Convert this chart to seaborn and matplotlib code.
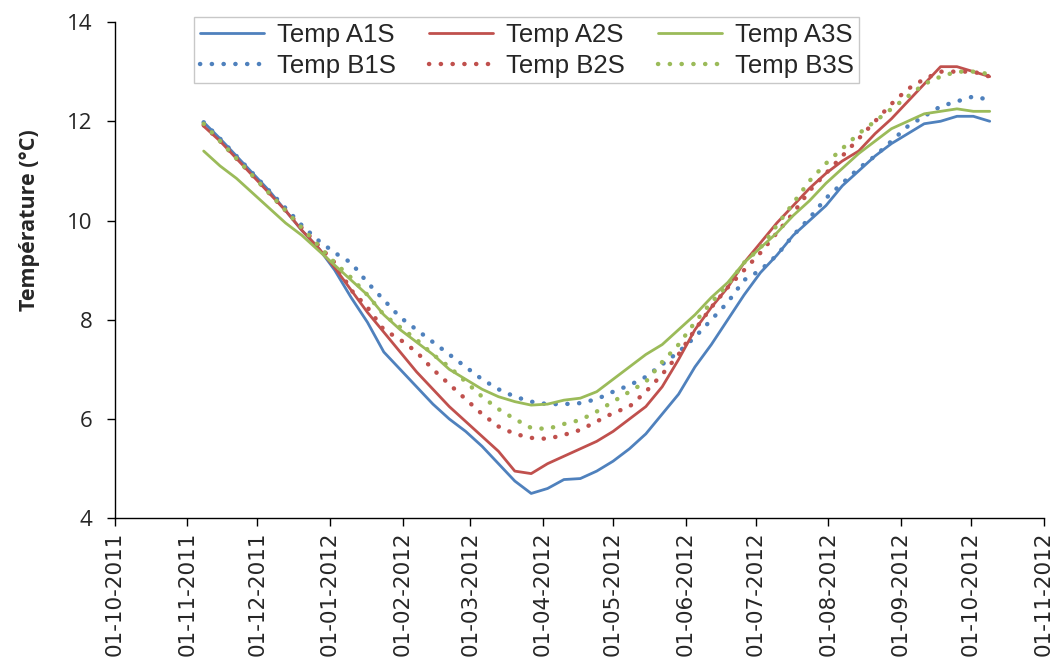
import pandas as pd
import numpy as np
import seaborn as sns
import matplotlib
matplotlib.use("Agg")
import matplotlib.pyplot as plt
import matplotlib.dates as mdates

# weekly readings, 08-11-2011 .. 09-10-2012
dates = pd.date_range("2011-11-08", periods=49, freq="7D")

temp_a1s = [11.98, 11.65, 11.3, 10.95, 10.6, 10.2, 9.8, 9.45, 9.0, 8.45,
            7.95, 7.35, 7.0, 6.65, 6.3, 6.0, 5.75, 5.45, 5.1, 4.75,
            4.5, 4.6, 4.78, 4.8, 4.95, 5.15, 5.4, 5.7, 6.1, 6.5,
            7.05, 7.5, 8.0, 8.5, 8.95, 9.3, 9.7, 10.0, 10.3, 10.7,
            11.0, 11.3, 11.55, 11.75, 11.95, 12.0, 12.1, 12.1, 12.0]
temp_a2s = [11.9, 11.6, 11.25, 10.9, 10.55, 10.2, 9.8, 9.45, 9.05, 8.6,
            8.15, 7.75, 7.35, 6.95, 6.6, 6.25, 5.95, 5.65, 5.35, 4.95,
            4.9, 5.1, 5.25, 5.4, 5.55, 5.75, 6.0, 6.25, 6.65, 7.2,
            7.8, 8.25, 8.65, 9.15, 9.55, 9.95, 10.3, 10.65, 10.95, 11.2,
            11.4, 11.75, 12.05, 12.4, 12.75, 13.1, 13.1, 13.0, 12.9]
temp_a3s = [11.4, 11.1, 10.85, 10.55, 10.25, 9.95, 9.7, 9.4, 9.1, 8.8,
            8.5, 8.1, 7.8, 7.55, 7.3, 7.0, 6.8, 6.6, 6.45, 6.35,
            6.28, 6.3, 6.38, 6.42, 6.55, 6.8, 7.05, 7.3, 7.5, 7.8,
            8.1, 8.45, 8.75, 9.15, 9.45, 9.75, 10.1, 10.4, 10.75, 11.05,
            11.35, 11.6, 11.85, 12.0, 12.15, 12.2, 12.25, 12.2, 12.2]
temp_b1s = [11.98, 11.65, 11.3, 10.95, 10.6, 10.25, 9.9, 9.6, 9.35, 9.15,
            8.75, 8.4, 8.05, 7.8, 7.55, 7.3, 7.05, 6.8, 6.6, 6.45,
            6.35, 6.3, 6.3, 6.32, 6.4, 6.55, 6.68, 6.85, 7.1, 7.35,
            7.65, 8.0, 8.35, 8.8, 9.0, 9.3, 9.7, 10.05, 10.45, 10.75,
            11.05, 11.3, 11.6, 11.9, 12.1, 12.3, 12.4, 12.5, 12.43]
temp_b2s = [11.92, 11.6, 11.25, 10.9, 10.55, 10.2, 9.85, 9.5, 9.15, 8.6,
            8.25, 7.8, 7.6, 7.35, 7.0, 6.7, 6.4, 6.1, 5.85, 5.7,
            5.62, 5.6, 5.68, 5.78, 5.95, 6.12, 6.25, 6.55, 6.9, 7.3,
            7.8, 8.25, 8.65, 9.0, 9.35, 9.75, 10.15, 10.6, 10.95, 11.3,
            11.65, 12.0, 12.35, 12.65, 12.85, 13.0, 13.0, 13.0, 12.9]
temp_b3s = [11.95, 11.6, 11.25, 10.9, 10.55, 10.2, 9.85, 9.5, 9.15, 8.85,
            8.5, 8.1, 7.85, 7.6, 7.3, 7.05, 6.75, 6.45, 6.2, 6.0,
            5.82, 5.8, 5.9, 5.98, 6.15, 6.35, 6.55, 6.75, 7.15, 7.5,
            7.95, 8.35, 8.7, 9.15, 9.45, 9.9, 10.35, 10.8, 11.15, 11.45,
            11.75, 12.0, 12.25, 12.5, 12.75, 12.9, 13.0, 13.0, 12.95]

blue = "#4F81BD"
red = "#C0504D"
green = "#9BBB59"

sns.set_style("ticks")
plt.rcParams["font.family"] = ["Liberation Sans", "DejaVu Sans"]

fig = plt.figure(figsize=(10.53, 6.67), dpi=100)
ax = fig.add_axes([0.109, 0.223, 0.882, 0.744])

dot = (0, (0.05, 2.6))
# order handles so that ncol=3 gives A on top row, B on bottom row
series = [
    ("Temp A1S", temp_a1s, blue, "-"),
    ("Temp B1S", temp_b1s, blue, dot),
    ("Temp A2S", temp_a2s, red, "-"),
    ("Temp B2S", temp_b2s, red, dot),
    ("Temp A3S", temp_a3s, green, "-"),
    ("Temp B3S", temp_b3s, green, dot),
]
for name, vals, col, ls in series:
    if ls == "-":
        sns.lineplot(x=dates, y=vals, ax=ax, color=col, lw=2, label=name)
    else:
        sns.lineplot(x=dates, y=vals, ax=ax, color=col, lw=3.2, label=name,
                     linestyle=ls, dash_capstyle="round")

ax.set_xlim(pd.Timestamp("2011-10-01"), pd.Timestamp("2012-11-01"))
ax.set_ylim(4, 14)
ax.set_yticks(np.arange(4, 15, 2))
ax.xaxis.set_major_locator(mdates.MonthLocator())
ax.xaxis.set_major_formatter(mdates.DateFormatter("%d-%m-%Y"))
for t in ax.get_xticklabels():
    t.set_rotation(90)
    t.set_family("DejaVu Sans")
    t.set_fontsize(15.5)
for t in ax.get_yticklabels():
    t.set_family("Open Sans")
    t.set_fontsize(16)
ax.tick_params(axis="both", direction="out", length=6, width=1, color="black")
ax.tick_params(axis="y", pad=10)
ax.set_xlabel("")
ax.set_ylabel("Température (°C)", fontsize=15.5, fontweight="bold",
              family="Open Sans")
ax.yaxis.set_label_coords(-0.08, 0.6)
for s in ["left", "bottom"]:
    ax.spines[s].set_color("black")
    ax.spines[s].set_linewidth(1)
sns.despine(ax=ax)

leg = ax.legend(ncol=3, loc="upper left", bbox_to_anchor=(0.072, 1.035),
                fontsize=18.5, frameon=True, fancybox=False, handlelength=2.5,
                columnspacing=1.3, handletextpad=0.5, borderpad=0.2,
                labelspacing=0.3)
leg.get_frame().set_edgecolor("#bbbbbb")
leg.get_frame().set_linewidth(1)

fig.savefig("out.png", dpi=100)
